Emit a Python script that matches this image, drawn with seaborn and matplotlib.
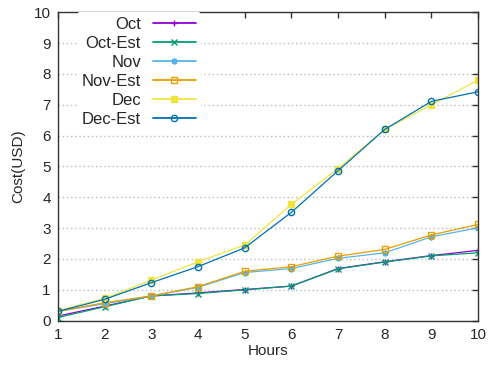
import matplotlib
matplotlib.use("Agg")
import matplotlib.pyplot as plt
import seaborn as sns
import pandas as pd

hours = [1, 2, 3, 4, 5, 6, 7, 8, 9, 10]
oct_cost = [0.15, 0.47, 0.80, 0.90, 1.01, 1.12, 1.69, 1.91, 2.11, 2.28]
oct_est = [0.10, 0.45, 0.80, 0.88, 1.00, 1.12, 1.68, 1.90, 2.10, 2.20]
nov_cost = [0.30, 0.55, 0.80, 1.08, 1.56, 1.69, 2.02, 2.20, 2.72, 3.01]
nov_est = [0.30, 0.58, 0.80, 1.10, 1.60, 1.75, 2.09, 2.31, 2.78, 3.12]
dec_cost = [0.32, 0.72, 1.31, 1.91, 2.45, 3.77, 4.93, 6.20, 7.00, 7.80]
dec_est = [0.30, 0.69, 1.23, 1.75, 2.36, 3.51, 4.86, 6.20, 7.11, 7.42]

labels = ["Oct", "Oct-Est", "Nov", "Nov-Est", "Dec", "Dec-Est"]
series = [oct_cost, oct_est, nov_cost, nov_est, dec_cost, dec_est]
colors = ["#9400d3", "#009e73", "#56b4e9", "#e69f00", "#f0e442", "#0072b2"]
markers = ["+", "x", (8, 2, 0), "s", "s", "o"]
filled = [True, True, True, False, True, False]

sns.set_theme(style="white")
plt.rcParams["font.family"] = ["Liberation Sans", "DejaVu Sans"]
plt.rcParams["font.size"] = 11

fig, ax = plt.subplots(figsize=(4.94, 3.69), dpi=100)
fig.subplots_adjust(left=0.117, right=0.968, bottom=0.131, top=0.967)

for lab, vals, c, m, f in zip(labels, series, colors, markers, filled):
    df = pd.DataFrame({"Hours": hours, "Cost": vals})
    sns.lineplot(data=df, x="Hours", y="Cost", ax=ax, color=c, marker=m,
                 markersize=4.5, linewidth=0.9, label=lab,
                 markerfacecolor=(c if f else "none"), markeredgecolor=c,
                 markeredgewidth=1)

ax.set_xlim(1, 10)
ax.set_ylim(0, 10)
ax.set_xticks(range(1, 11))
ax.set_yticks(range(0, 11))
ax.set_xlabel("Hours", fontsize=11, labelpad=2)
ax.set_ylabel("Cost(USD)", fontsize=11, labelpad=6)
ax.tick_params(axis="both", direction="in", length=4, width=1, color="#333333",
               top=True, right=True, labelsize=11, pad=5)
ax.yaxis.grid(True, linestyle=(0, (1, 2)), color="#bbbbbb", linewidth=1)
ax.xaxis.grid(False)
for s in ax.spines.values():
    s.set_color("#333333")
    s.set_linewidth(1)

leg = ax.legend(loc="upper left", bbox_to_anchor=(0.045, 1.0),
                markerfirst=False, frameon=True,
                fontsize=12, handlelength=2.6, labelspacing=0.24,
                borderaxespad=0, handletextpad=0.7, borderpad=0.3)
leg.get_frame().set_edgecolor("none")
leg.get_frame().set_facecolor("white")
leg.get_frame().set_alpha(1)
for line in leg.get_lines():
    line.set_linewidth(1.3)

fig.savefig("out.png", dpi=100)
